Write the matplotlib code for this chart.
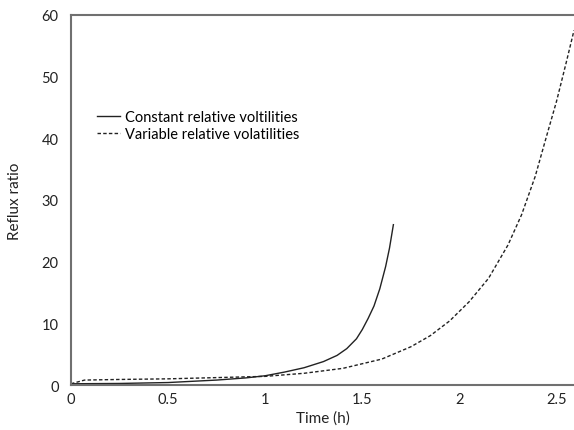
import matplotlib
matplotlib.use('Agg')
import matplotlib.pyplot as plt

# Reflux ratio over time, batch distillation
time_const = [0, 0.25, 0.5, 0.75, 0.9, 1.0, 1.1, 1.2, 1.3, 1.37, 1.42, 1.47, 1.5, 1.53,
              1.56, 1.59, 1.62, 1.64, 1.66]
reflux_const = [0.2, 0.25, 0.4, 0.8, 1.15, 1.5, 2.1, 2.8, 3.8, 4.8, 5.9, 7.5, 9.0, 10.8,
                12.8, 15.6, 19.2, 22.2, 26.0]

time_var = [0, 0.07, 0.25, 0.5, 0.75, 1.0, 1.2, 1.4, 1.6, 1.75, 1.85, 1.95, 2.05, 2.15,
            2.25, 2.32, 2.39, 2.45, 2.5, 2.55, 2.59]
reflux_var = [0.2, 0.8, 0.9, 1.0, 1.2, 1.4, 1.9, 2.7, 4.2, 6.2, 8.0, 10.4, 13.5, 17.3,
              22.7, 27.6, 33.8, 40.5, 46.0, 52.3, 57.5]

x_ticks = [0, 0.5, 1, 1.5, 2, 2.5]
x_labels = ['0', '0.5', '1', '1.5', '2', '2.5']
y_ticks = [0, 10, 20, 30, 40, 50, 60]

plt.rcParams['font.family'] = ['Lato', 'DejaVu Sans']

fig = plt.figure(figsize=(5.74, 4.31), dpi=100)
ax = fig.add_axes([0.1237, 0.1044, 0.8763, 0.8585])

ax.plot(time_const, reflux_const, color='#222222', lw=1.0,
        label='Constant relative voltilities')
ax.plot(time_var, reflux_var, color='#222222', lw=1.0, linestyle=(0, (2.5, 1.6)),
        label='Variable relative volatilities')

ax.set_xlim(0, 2.59)
ax.set_ylim(0, 60)
ax.set_xticks(x_ticks)
ax.set_xticklabels(x_labels)
ax.set_yticks(y_ticks)
ax.tick_params(length=0, labelsize=10.5, colors='#222222')
ax.tick_params(axis='x', pad=5)
ax.tick_params(axis='y', pad=9)

for side in ['left', 'bottom', 'top']:
    ax.spines[side].set_color('#707070')
    ax.spines[side].set_linewidth(1.5)
ax.spines['right'].set_visible(False)

ax.set_xlabel('Time (h)', fontsize=11, color='#222222', labelpad=3)
ax.set_ylabel('Reflux ratio', fontsize=11, color='#222222', labelpad=14)

ax.legend(loc='upper left', bbox_to_anchor=(0.04, 0.76), frameon=False,
          fontsize=10.5, handlelength=1.6, handletextpad=0.3, labelspacing=0.25,
          borderaxespad=0)

plt.savefig('out.png', dpi=100)
